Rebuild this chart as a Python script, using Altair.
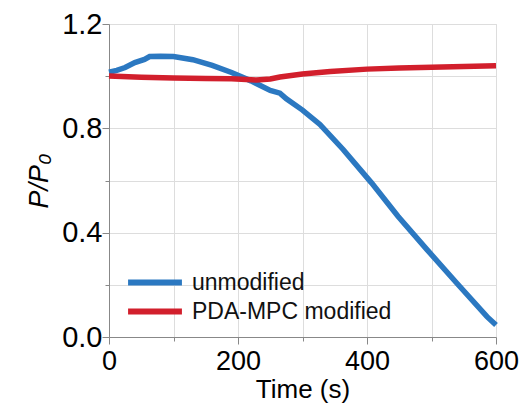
import altair as alt
import pandas as pd

# unmodified
t_unmod = [0, 12, 25, 40, 55, 63, 80, 100, 130, 160, 190, 220, 250, 265, 275, 300,
           327, 363, 407, 448, 493, 539, 586, 600]
p_unmod = [1.015, 1.022, 1.033, 1.052, 1.064, 1.075, 1.076, 1.075, 1.063, 1.041, 1.014,
           0.982, 0.945, 0.935, 0.913, 0.870, 0.815, 0.719, 0.591, 0.463, 0.335, 0.207,
           0.078, 0.046]
# PDA-MPC modified
t_mod = [0, 50, 100, 150, 190, 229, 250, 265, 300, 343, 400, 450, 500, 550, 600]
p_mod = [1.001, 0.996, 0.993, 0.991, 0.990, 0.985, 0.989, 0.997, 1.008, 1.018, 1.027,
         1.031, 1.034, 1.037, 1.040]

series_names = ["unmodified", "PDA-MPC modified"]
series_colors = ["#2b78c1", "#d21f2c"]

x_ticks = [0, 100, 200, 300, 400, 500, 600]
y_ticks = [0.0, 0.2, 0.4, 0.6, 0.8, 1.0, 1.2]

df = pd.concat([
    pd.DataFrame({"t": t_unmod, "p": p_unmod, "s": series_names[0], "o": range(len(t_unmod))}),
    pd.DataFrame({"t": t_mod, "p": p_mod, "s": series_names[1], "o": range(len(t_mod))}),
])

FONT = "Liberation Sans"

chart = alt.Chart(df).mark_line(strokeWidth=5.5, strokeCap="butt").encode(
    x=alt.X("t:Q", scale=alt.Scale(domain=[0, 600], nice=False),
            axis=alt.Axis(values=x_ticks, title="Time (s)",
                          labelExpr="datum.value % 200 === 0 ? format(datum.value, 'd') : ''",
                          tickSize={"condition": {"test": "datum.value % 200 === 0", "value": 7}, "value": 4},
                          labelFlush=False, labelOverlap=False, labelPadding=4,
                          labelFontSize=27, titleFontSize=26, titlePadding=2,
                          titleFontWeight=400)),
    y=alt.Y("p:Q", scale=alt.Scale(domain=[0, 1.2], nice=False),
            axis=alt.Axis(values=y_ticks, title="P/P₀", titleFontStyle="italic",
                          labelExpr="round(datum.value * 10) % 4 === 0 ? format(datum.value, '.1f') : ''",
                          tickSize={"condition": {"test": "round(datum.value * 10) % 4 === 0", "value": 7}, "value": 4},
                          labelFlush=False, labelOverlap=False, labelPadding=0,
                          labelFontSize=29, titleFontSize=27, titlePadding=8,
                          titleFontWeight=400)),
    color=alt.Color("s:N", scale=alt.Scale(domain=series_names, range=series_colors),
                    legend=alt.Legend(title=None, orient="none", legendX=16, legendY=244,
                                      symbolType="stroke", symbolSize=2900, symbolStrokeWidth=6,
                                      labelFontSize=23, labelFont=FONT, labelOffset=7,
                                      labelLimit=400, labelColor="#111",
                                      clipHeight=29, rowPadding=0, padding=0)),
    order="o:Q",
).properties(
    width=387, height=313,
    padding={"left": 109, "top": 24, "right": 26, "bottom": 73},
    autosize=alt.AutoSizeParams(type="none"),
).configure_axis(
    domainColor="black", domainWidth=2, tickColor="black", tickWidth=2,
    labelColor="#111", titleColor="#111", labelFont=FONT, titleFont=FONT,
    grid=False,
).configure_view(stroke="black", strokeWidth=2).configure(background="white")

chart.save("out.html", embed_options={"renderer": "svg", "actions": False})
